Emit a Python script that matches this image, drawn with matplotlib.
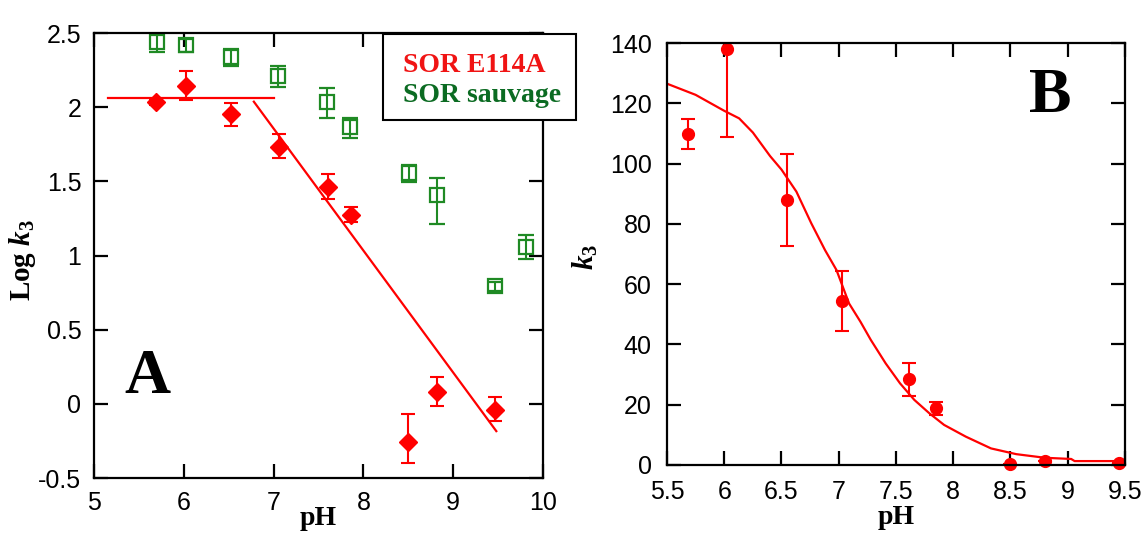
import matplotlib
matplotlib.use('Agg')
import matplotlib.pyplot as plt
from matplotlib.patches import Rectangle

plt.rcParams['mathtext.fontset'] = 'custom'
plt.rcParams['mathtext.rm'] = 'Liberation Serif:bold'
plt.rcParams['mathtext.it'] = 'Liberation Serif:italic:bold'
plt.rcParams['mathtext.bf'] = 'Liberation Serif:bold'

# ---------------- Panel A data ----------------
ph_mut = [5.69, 6.03, 6.53, 7.06, 7.61, 7.86, 8.50, 8.82, 9.47]
logk_mut = [2.037, 2.14, 1.952, 1.733, 1.46, 1.273, -0.256, 0.077, -0.042]
logk_mut_lo = [0.02, 0.09, 0.077, 0.073, 0.077, 0.045, 0.145, 0.09, 0.072]
logk_mut_hi = [0.02, 0.105, 0.074, 0.087, 0.089, 0.056, 0.19, 0.106, 0.09]

ph_wt = [5.70, 6.03, 6.53, 7.05, 7.60, 7.85, 8.51, 8.82, 9.46, 9.81]
logk_wt = [2.437, 2.42, 2.34, 2.21, 2.037, 1.868, 1.558, 1.408, 0.794, 1.059]
logk_wt_lo = [0.063, 0.05, 0.06, 0.076, 0.107, 0.078, 0.061, 0.196, 0.03, 0.08]
logk_wt_hi = [0.073, 0.04, 0.05, 0.068, 0.09, 0.062, 0.052, 0.112, 0.03, 0.079]

fit_flat_ph = [5.16, 7.0]
fit_flat_logk = [2.064, 2.064]
fit_slope_ph = [6.78, 9.48]
fit_slope_logk = [2.037, -0.184]

a_xticks = [5, 6, 7, 8, 9, 10]
a_xticklabels = ['5', '6', '7', '8', '9', '10']
a_yticks = [-0.5, 0, 0.5, 1, 1.5, 2, 2.5]
a_yticklabels = ['-0.5', '0', '0.5', '1', '1.5', '2', '2.5']

legend_labels = ['SOR E114A', 'SOR sauvage']

# ---------------- Panel B data ----------------
ph_b = [5.686, 6.02, 6.548, 7.03, 7.61, 7.85, 8.50, 8.80, 9.45]
k3_b = [109.8, 137.9, 87.9, 54.5, 28.4, 18.8, 0.4, 1.2, 0.6]
k3_b_err = [5.0, 29.0, 15.2, 10.0, 5.5, 2.2, 0.0, 0.0, 0.0]

curve_ph = [5.5, 5.75, 6.0, 6.13, 6.25, 6.4, 6.5, 6.63, 6.76, 6.88, 6.98,
            7.09, 7.19, 7.28, 7.41, 7.535, 7.66, 7.79, 7.92, 8.11, 8.33,
            8.55, 8.8, 9.03, 9.06, 9.5]
curve_k3 = [126.5, 122.8, 117.5, 115.0, 110.3, 102.5, 98.0, 90.7, 80.2, 71.3,
            64.7, 53.6, 47.5, 41.5, 33.7, 27.1, 21.6, 17.2, 13.3, 9.4, 5.5,
            3.6, 2.4, 2.0, 1.3, 1.3]

b_xticks = [5.5, 6, 6.5, 7, 7.5, 8, 8.5, 9, 9.5]
b_xticklabels = ['5.5', '6', '6.5', '7', '7.5', '8', '8.5', '9', '9.5']
b_yticks = [0, 20, 40, 60, 80, 100, 120, 140]
b_yticklabels = ['0', '20', '40', '60', '80', '100', '120', '140']

RED = '#ff0000'
GREEN = '#1f8a24'
GREEN_TXT = '#0b6b22'
RED_TXT = '#f01414'

SERIF = 'Liberation Serif'
SANS = 'Liberation Sans'

fig = plt.figure(figsize=(11.48, 5.37), dpi=100)
W, H = 1148, 537

def px_axes(l, t, r, b):
    return fig.add_axes([l / W, (H - b) / H, (r - l) / W, (b - t) / H])

axA = px_axes(94, 33, 543, 478)
axB = px_axes(667, 43, 1125, 465)

def style(ax, pad):
    for s in ax.spines.values():
        s.set_linewidth(1.6)
    ax.tick_params(direction='in', length=10, width=1.6, top=True, right=True,
                   labelsize=18, pad=pad)
    for lab in ax.get_xticklabels() + ax.get_yticklabels():
        lab.set_fontfamily(SANS)

# ---------- Panel A ----------
axA.plot(fit_flat_ph, fit_flat_logk, color=RED, lw=1.6)
axA.plot(fit_slope_ph, fit_slope_logk, color=RED, lw=1.6)

axA.errorbar(ph_wt, logk_wt, yerr=[logk_wt_lo, logk_wt_hi], fmt='s', mfc='none',
             mec=GREEN, mew=1.6, ms=10.5, color=GREEN, ecolor=GREEN, elinewidth=1.5,
             capsize=5.5, capthick=1.5)
axA.errorbar(ph_mut, logk_mut, yerr=[logk_mut_lo, logk_mut_hi], fmt='D', mfc=RED,
             mec=RED, ms=9.5, color=RED, ecolor=RED, elinewidth=1.5,
             capsize=5, capthick=1.5)

axA.set_xlim(5, 10)
axA.set_ylim(-0.5, 2.5)
axA.set_xticks(a_xticks)
axA.set_xticklabels(a_xticklabels)
axA.set_yticks(a_yticks)
axA.set_yticklabels(a_yticklabels)
style(axA, 9)

axA.set_xlabel('pH', fontfamily=SERIF, fontweight='bold', fontsize=20)
axA.xaxis.set_label_coords(0.5, -0.063)
axA.set_ylabel(r'Log $\mathit{k}_\mathit{3}$', fontfamily=SERIF, fontweight='bold', fontsize=21)
axA.yaxis.set_label_coords(-0.125, 0.49)

fig.text(147 / W, (H - 393) / H, 'A', fontfamily=SERIF, fontweight='bold',
         fontsize=46, ha='center', va='baseline')

# legend box (figure coordinates)
fig.patches.append(Rectangle((383 / W, (H - 120) / H), (576 - 383) / W, (120 - 34) / H,
                             transform=fig.transFigure, facecolor='white',
                             edgecolor='black', lw=1.5, zorder=5))
fig.text(403 / W, (H - 72) / H, legend_labels[0], color=RED_TXT, fontfamily=SERIF,
         fontweight='bold', fontsize=20, va='baseline', zorder=6)
fig.text(403 / W, (H - 102) / H, legend_labels[1], color=GREEN_TXT, fontfamily=SERIF,
         fontweight='bold', fontsize=20, va='baseline', zorder=6)

# ---------- Panel B ----------
axB.plot(curve_ph, curve_k3, color=RED, lw=1.6)
cont = axB.errorbar(ph_b, k3_b, yerr=k3_b_err, fmt='o', mfc=RED, mec=RED, ms=8.5,
                    color=RED, ecolor=RED, elinewidth=1.5, capsize=5, capthick=1.5)
cont[0].set_clip_on(False)
axB.set_xlim(5.5, 9.5)
axB.set_ylim(0, 140)
axB.set_xticks(b_xticks)
axB.set_xticklabels(b_xticklabels)
axB.set_yticks(b_yticks)
axB.set_yticklabels(b_yticklabels)
style(axB, 11)

axB.set_xlabel('pH', fontfamily=SERIF, fontweight='bold', fontsize=20)
axB.xaxis.set_label_coords(0.5, -0.095)
axB.set_ylabel(r'$\mathit{k}_\mathit{3}$', fontfamily=SERIF, fontweight='bold', fontsize=21)
axB.yaxis.set_label_coords(-0.146, 0.493)

fig.text(1050 / W, (H - 112) / H, 'B', fontfamily=SERIF, fontweight='bold',
         fontsize=46, ha='center', va='baseline')

fig.savefig('out.png', dpi=100)
